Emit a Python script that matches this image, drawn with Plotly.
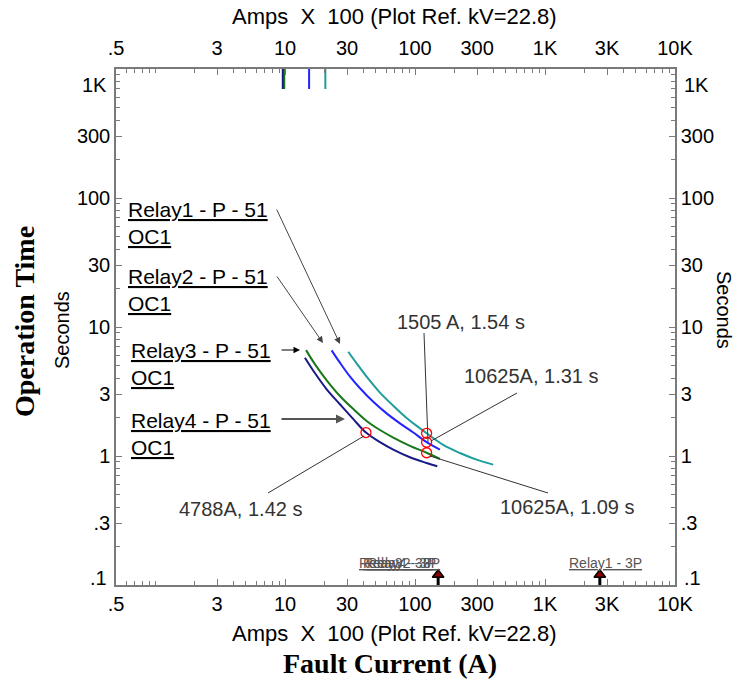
import plotly.graph_objects as go

# ---------------- data (current in Amps x 100, time in seconds) ----------------
r1_i = [30.6, 35.5, 42.4, 53.7, 68.0, 86.1, 109.0, 122.7, 164.8, 221.4, 297.4, 399.5]
r1_t = [6.43, 5.23, 4.12, 3.10, 2.45, 1.97, 1.64, 1.50, 1.22, 1.055, 0.937, 0.857]
r2_i = [22.8, 26.4, 31.6, 37.7, 47.7, 60.4, 76.5, 96.9, 122.7, 155.3]
r2_t = [6.59, 5.29, 4.12, 3.35, 2.63, 2.14, 1.79, 1.52, 1.28, 1.12]
r3_i = [14.5, 17.0, 20.9, 26.4, 33.5, 42.4, 53.7, 68.0, 91.3, 122.7, 155.3]
r3_t = [6.62, 5.13, 3.86, 2.92, 2.31, 1.87, 1.59, 1.39, 1.20, 1.06, 0.948]
r4_i = [14.2, 17.0, 20.9, 26.4, 33.5, 41.9, 53.7, 68.0, 91.3, 122.7, 148.2]
r4_t = [5.78, 4.38, 3.29, 2.52, 1.93, 1.52, 1.28, 1.12, 0.977, 0.883, 0.832]

# pickup segments at the top of the chart
pickup_i = [20.4, 15.3, 9.85, 9.6]
pickup_t = [700, 1000]

# operating points (red circles)
op_i = [122.7, 122.7, 122.7, 41.9]
op_t = [1.50, 1.28, 1.06, 1.52]

# fault-current arrows at the bottom
fault_i = [150.5, 2640]
fault_t = 0.12

x_tickvals = [0.5, 3, 10, 30, 100, 300, 1000, 3000, 10000]
x_ticktext = [".5", "3", "10", "30", "100", "300", "1K", "3K", "10K"]
y_tickvals = [0.1, 0.3, 1, 3, 10, 30, 100, 300, 1000]
y_ticktext = ["", ".3", "1", "3", "10", "30", "100", "300", ""]
y_edge_labels = ["1K", ".1"]

colors = ["rgb(30,158,155)", "rgb(35,35,255)", "rgb(25,120,25)", "rgb(25,25,135)"]
names = ["Relay1", "Relay2", "Relay3", "Relay4"]
curves_i = [r1_i, r2_i, r3_i, r4_i]
curves_t = [r1_t, r2_t, r3_t, r4_t]

x_minor = [m * 10 ** e for e in range(-1, 4) for m in range(1, 10)]
x_minor = [v for v in x_minor if 0.5 <= v <= 10000]
y_minor = [m * 10 ** e for e in range(-1, 3) for m in range(1, 10)] + [1000]

FONT = "Arial, Liberation Sans, sans-serif"
SERIF = "Times New Roman, Liberation Serif, serif"

fig = go.Figure()

for xi, ti, c, n, pk in zip(curves_i, curves_t, colors, names, pickup_i):
    fig.add_trace(go.Scatter(x=xi, y=ti, mode="lines", line=dict(color=c, width=2, shape="spline"),
                             name=n, showlegend=False, hoverinfo="skip"))
    fig.add_trace(go.Scatter(x=[pk, pk], y=pickup_t, mode="lines", line=dict(color=c, width=2),
                             showlegend=False, hoverinfo="skip"))

fig.add_trace(go.Scatter(x=op_i, y=op_t, mode="markers",
                         marker=dict(symbol="circle-open", size=10, color="red", line=dict(width=1.3, color="red")),
                         showlegend=False, hoverinfo="skip"))

for fi in fault_i:
    fig.add_trace(go.Scatter(x=[fi, fi], y=[0.1, 0.118], mode="lines", line=dict(color="black", width=3),
                             showlegend=False, hoverinfo="skip"))
fig.add_trace(go.Scatter(x=fault_i, y=[fault_t] * len(fault_i), mode="markers",
                         marker=dict(symbol="triangle-up", size=10, color="rgb(140,0,0)",
                                     line=dict(color="black", width=1.5)),
                         showlegend=False, hoverinfo="skip"))

# invisible trace for secondary axes
fig.add_trace(go.Scatter(x=[1], y=[1], xaxis="x2", yaxis="y2", mode="markers",
                         marker=dict(opacity=0), showlegend=False, hoverinfo="skip"))

X0, X1, Y0, Y1 = 116, 675, 69, 585


def P(px, py):
    return (px - X0) / (X1 - X0), (Y1 - py) / (Y1 - Y0)


axis_common = dict(type="log", showline=True, linecolor="#7a7a7a", linewidth=1.5, mirror=False,
                   ticks="inside", ticklen=6, tickcolor="#7a7a7a", tickwidth=1, showgrid=False,
                   zeroline=False, tickfont=dict(family=FONT, size=20, color="black"),
                   minor=dict(ticks="inside", ticklen=4, tickcolor="#7a7a7a", showgrid=False))

fig.update_layout(
    width=736, height=682, margin=dict(l=X0, r=736 - X1, t=Y0, b=682 - Y1),
    plot_bgcolor="white", paper_bgcolor="white", showlegend=False,
    xaxis=dict(axis_common, range=[-0.30103, 4], tickvals=x_tickvals, ticktext=x_ticktext,
               minor=dict(axis_common["minor"], tickvals=x_minor)),
    xaxis2=dict(axis_common, range=[-0.30103, 4], tickvals=x_tickvals, ticktext=x_ticktext,
                overlaying="x", side="top", matches="x", ticklabelstandoff=4,
                minor=dict(axis_common["minor"], tickvals=x_minor)),
    yaxis=dict(axis_common, range=[-1, 3], tickvals=y_tickvals, ticktext=y_ticktext,
               minor=dict(axis_common["minor"], tickvals=y_minor)),
    yaxis2=dict(axis_common, range=[-1, 3], tickvals=y_tickvals, ticktext=y_ticktext,
                overlaying="y", side="right", matches="y",
                minor=dict(axis_common["minor"], tickvals=y_minor)),
)

ann = []


def text(px, py, s, size=20, xanchor="center", family=FONT, color="black", angle=0):
    x, y = P(px, py)
    ann.append(dict(x=x, y=y, xref="paper", yref="paper", text=s, showarrow=False, xanchor=xanchor,
                    yanchor="middle", textangle=angle, font=dict(family=family, size=size, color=color)))


# edge tick labels of the time axis (drawn inside the axis span, like the reference)
text(109, 85, y_edge_labels[0], xanchor="right")
text(109, 578, y_edge_labels[1], xanchor="right")
text(682, 85, y_edge_labels[0], xanchor="left")
text(682, 578, y_edge_labels[1], xanchor="left")

# axis titles
text(394, 16, "Amps  X  100 (Plot Ref. kV=22.8)", size=22)
text(394, 633, "Amps  X  100 (Plot Ref. kV=22.8)", size=22)
text(390, 663, "<b>Fault Current (A)</b>", size=28, family=SERIF)
text(24, 322, "<b>Operation Time</b>", size=28, family=SERIF, angle=-90)
text(62, 330, "Seconds", size=20, angle=-90)
text(724, 310, "Seconds", size=20, angle=90)

# relay labels
text(126, 209, "<u>Relay1 - P - 51</u>", size=21, xanchor="left")
text(126, 236, "<u>OC1</u>", size=21, xanchor="left")
text(126, 276, "<u>Relay2 - P - 51</u>", size=21, xanchor="left")
text(126, 303, "<u>OC1</u>", size=21, xanchor="left")
text(129, 350, "<u>Relay3 - P - 51</u>", size=21, xanchor="left")
text(129, 377, "<u>OC1</u>", size=21, xanchor="left")
text(129, 420, "<u>Relay4 - P - 51</u>", size=21, xanchor="left")
text(129, 447, "<u>OC1</u>", size=21, xanchor="left")

# operating point labels
lab_col = "#333333"
text(461, 322, "1505 A, 1.54 s", color=lab_col)
text(531, 376, "10625A, 1.31 s", color=lab_col)
text(567, 507, "10625A, 1.09 s", color=lab_col)
text(240, 509, "4788A, 1.42 s", color=lab_col)

# bottom fault arrow labels (overlapping in the reference)
text(395, 563, "<u>Relay3 - 3P</u>", size=14, color="#555")
text(399, 563, "<u>Relay4 - 3P</u>", size=14, color="#555")
text(403, 563, "<u>Relay2 - 3P</u>", size=14, color="#555")
text(605, 563, "<u>Relay1 - 3P</u>", size=14, color="#555")


def arrow(hx, hy, tx, ty, color="#444", width=1, size=1.3):
    x, y = P(hx, hy)
    ann.append(dict(x=x, y=y, xref="paper", yref="paper", ax=tx - hx, ay=ty - hy, axref="pixel", ayref="pixel",
                    text="", showarrow=True, arrowhead=2, arrowsize=size, arrowwidth=width, arrowcolor=color))


arrow(340, 344, 276, 208)
arrow(323, 343, 276, 275)
arrow(300, 350, 280, 350, color="black")
arrow(345, 419, 280, 419, color="#555", width=2, size=0.9)

fig.update_layout(annotations=ann)

shapes = []
for (ax_, ay_, bx_, by_) in [(424, 333, 428, 442), (517, 393, 431, 441), (430, 456, 548, 493), (268, 493, 364, 436)]:
    x0, y0 = P(ax_, ay_)
    x1, y1 = P(bx_, by_)
    shapes.append(dict(type="line", xref="paper", yref="paper", x0=x0, y0=y0, x1=x1, y1=y1,
                       line=dict(color="#333", width=1)))
fig.update_layout(shapes=shapes)

fig.write_html("out.html")
